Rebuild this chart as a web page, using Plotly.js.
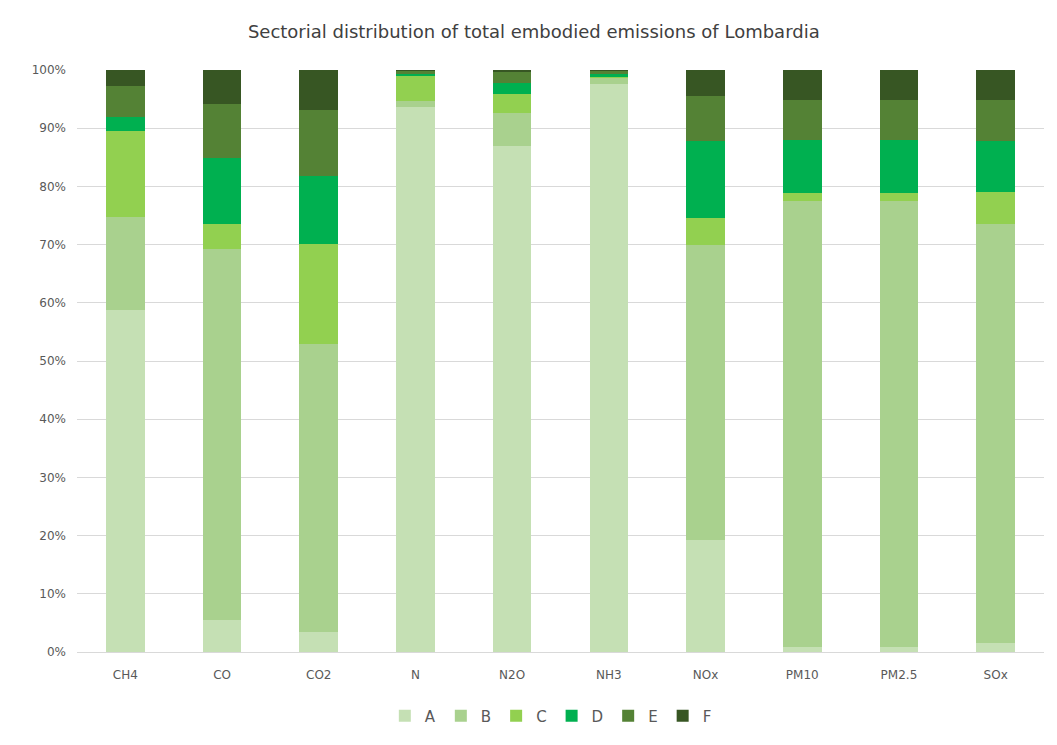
<!DOCTYPE html>
<html>
<head>
<meta charset="utf-8">
<script src="https://cdn.plot.ly/plotly-3.0.1.min.js"></script>
<style>html,body{margin:0;padding:0;background:#fff;}#chart{width:1057px;height:745px;}</style>
</head>
<body>
<div id="chart"></div>
<script>
const categories = ["CH4", "CO", "CO2", "N", "N2O", "NH3", "NOx", "PM10", "PM2.5", "SOx"];
const seriesNames = ["A", "B", "C", "D", "E", "F"];
const A = [58.7, 5.5, 3.4, 93.6, 87.0, 97.6, 19.3, 0.9, 0.9, 1.5];
const B = [16.1, 63.7, 49.6, 1.0, 5.6, 1.1, 50.6, 76.6, 76.6, 72.1];
const C = [14.8, 4.4, 17.1, 4.5, 3.2, 0.1, 4.6, 1.3, 1.3, 5.5];
const D = [2.3, 11.3, 11.7, 0.2, 1.9, 0.5, 13.3, 9.1, 9.1, 8.7];
const E = [5.3, 9.3, 11.4, 0.6, 1.9, 0.6, 7.7, 7.0, 7.0, 7.1];
const F = [2.8, 5.8, 6.8, 0.1, 0.4, 0.1, 4.5, 5.1, 5.1, 5.1];
const seriesValues = [A, B, C, D, E, F];
const colors = ["#c5e0b4", "#a9d18e", "#92d050", "#00b050", "#548235", "#375623"];

const traces = seriesNames.map((n, i) => ({
  type: "bar",
  name: n,
  x: categories,
  y: seriesValues[i],
  marker: {color: colors[i], line: {width: 0}},
  hoverinfo: "x+y+name"
}));

const layout = {
  width: 1057,
  height: 745,
  paper_bgcolor: "#ffffff",
  plot_bgcolor: "#ffffff",
  barmode: "stack",
  bargap: 0.6,
  margin: {l: 77, r: 13, t: 70, b: 91},
  font: {family: "DejaVu Sans, Open Sans, sans-serif", color: "#595959", size: 12},
  title: {
    text: "Sectorial distribution of total embodied emissions of Lombardia",
    font: {family: "DejaVu Sans, sans-serif", size: 18, color: "#404040"},
    x: 0.505, xanchor: "center", y: 0.957, yanchor: "middle"
  },
  xaxis: {
    type: "category",
    showgrid: false,
    showline: true,
    linecolor: "#d9d9d9",
    linewidth: 1,
    ticks: "",
    ticklabelstandoff: 12,
    tickfont: {size: 12, color: "#595959"},
    zeroline: false
  },
  yaxis: {
    range: [0, 100],
    dtick: 10,
    ticksuffix: "%",
    showgrid: true,
    gridcolor: "#d9d9d9",
    gridwidth: 1,
    showline: false,
    zeroline: false,
    ticks: "",
    ticklabelstandoff: 10,
    tickfont: {size: 12, color: "#595959"}
  },
  legend: {
    orientation: "h",
    x: 0.49, xanchor: "center",
    y: -0.11, yanchor: "middle",
    itemwidth: 30,
    font: {size: 15, color: "#595959"},
    traceorder: "normal"
  },
  showlegend: true
};

Plotly.newPlot("chart", traces, layout, {displayModeBar: false, responsive: false});
</script>
</body>
</html>
